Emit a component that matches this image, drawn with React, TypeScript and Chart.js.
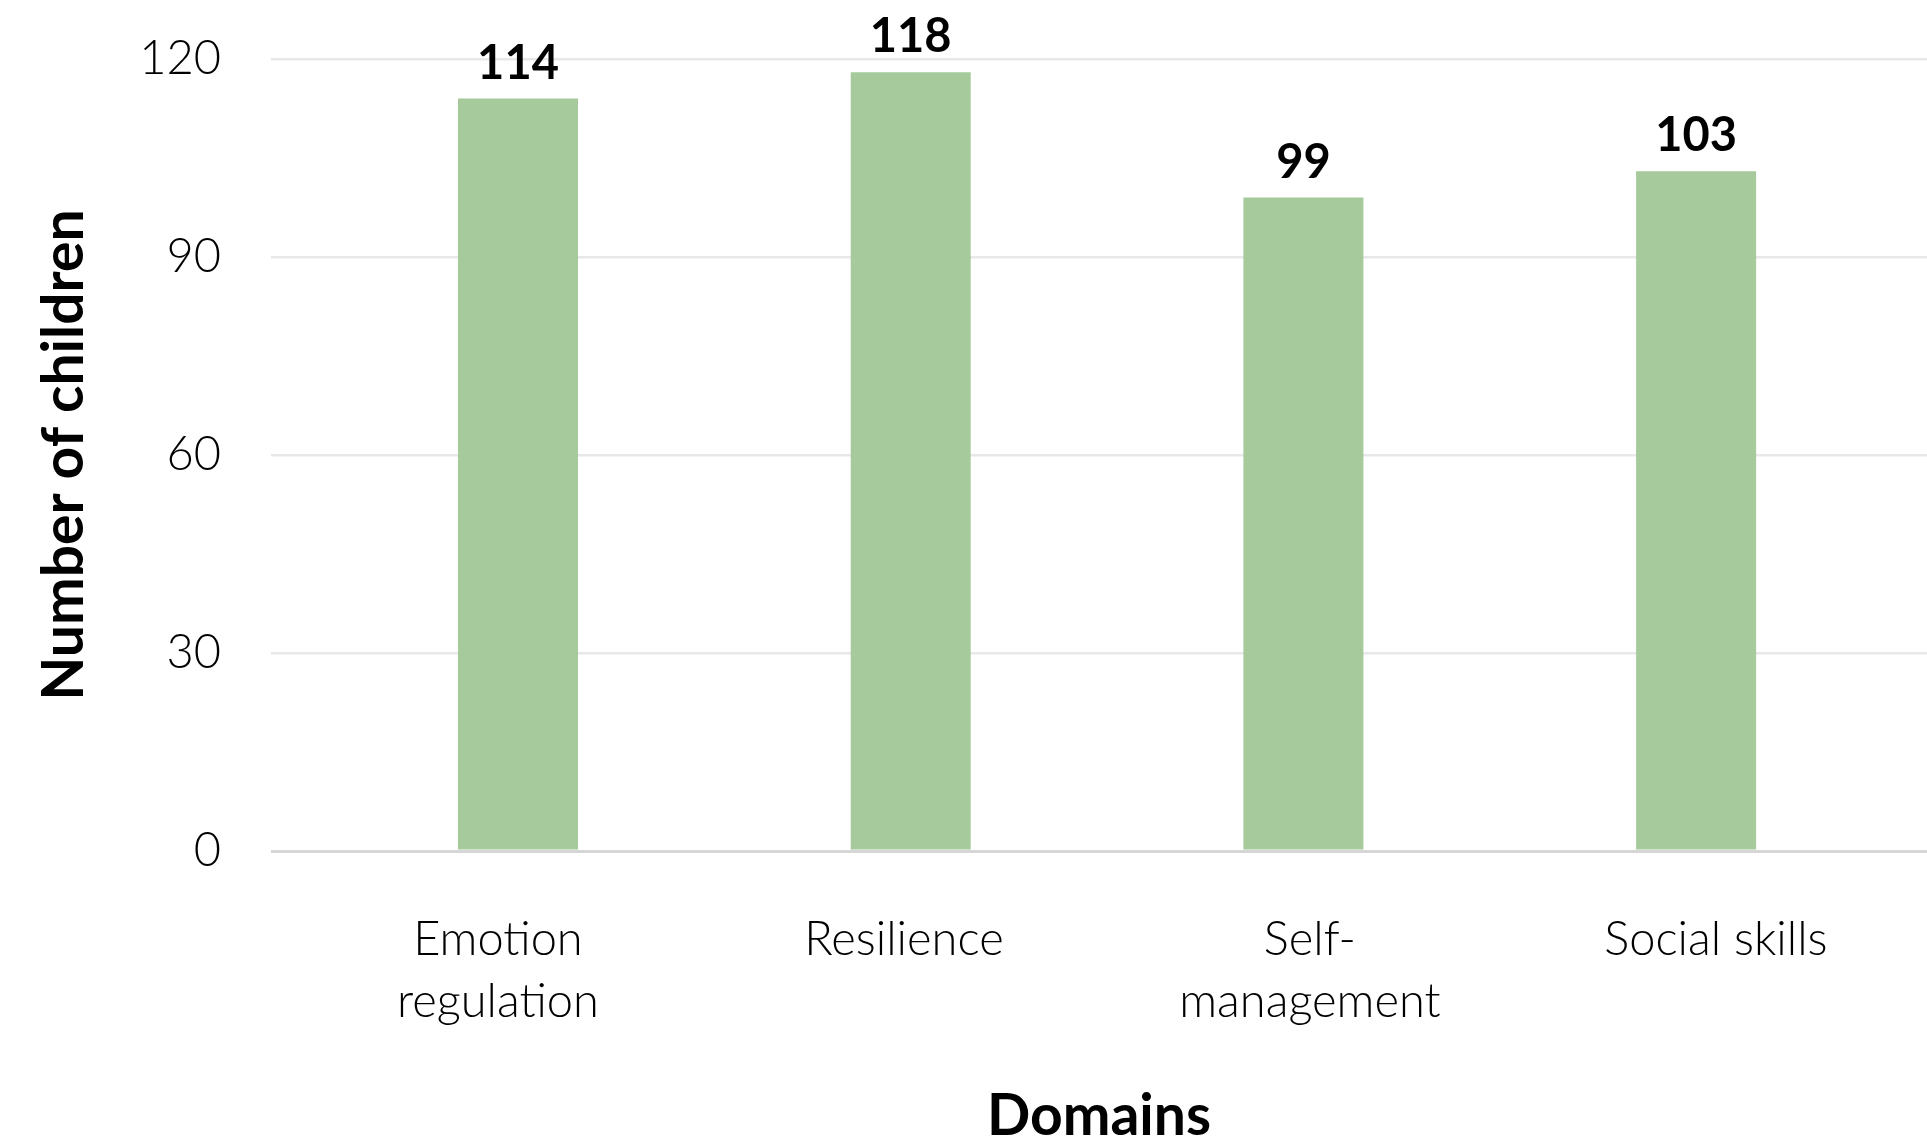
import React, { useEffect, useRef } from 'react';
import { Chart, registerables } from 'chart.js';

Chart.register(...registerables);

// ---- data ----
const categories: string[][] = [
  ['Emotion', 'regulation'],
  ['Resilience'],
  ['Self-', 'management'],
  ['Social skills'],
];
const values: number[] = [114, 118, 99, 103];
const yTicks: number[] = [0, 30, 60, 90, 120];
const xTitle = 'Domains';
const yTitle = 'Number of children';

const FAMILY = "Lato, 'Noto Sans', sans-serif";

const valueLabels = {
  id: 'valueLabels',
  afterDatasetsDraw(chart: any) {
    const ctx = chart.ctx;
    const meta = chart.getDatasetMeta(0);
    ctx.save();
    ctx.font = `bold 47px ${FAMILY}`;
    ctx.fillStyle = '#000';
    ctx.textAlign = 'center';
    ctx.textBaseline = 'alphabetic';
    meta.data.forEach((el: any, i: number) => {
      ctx.fillText(String(values[i]), el.x, el.y - 20);
    });
    ctx.restore();
  },
};

export default function App() {
  const ref = useRef<HTMLCanvasElement | null>(null);

  useEffect(() => {
    document.body.style.margin = '0';
    const canvas = ref.current;
    if (!canvas) return;
    const chart = new Chart(canvas, {
      type: 'bar',
      data: {
        datasets: [
          {
            data: values.map((v, i) => ({ x: i, y: v })) as any,
            backgroundColor: '#a6ca9b',
            borderWidth: 0,
            categoryPercentage: 1,
            barPercentage: 0.3056,
            xAxisID: 'x',
            yAxisID: 'y',
          },
        ],
      },
      options: {
        animation: false,
        responsive: true,
        maintainAspectRatio: false,
        layout: { padding: { top: 59, right: 0, bottom: 0, left: 0 } },
        plugins: {
          legend: { display: false },
          tooltip: { enabled: false },
        },
        scales: {
          x: {
            type: 'linear',
            position: 'bottom',
            offset: false,
            min: -0.629,
            max: 3.588,
            afterBuildTicks: (s: any) => {
              s.ticks = values.map((_, i) => ({ value: i }));
            },
            afterFit: (s: any) => {
              s.height = 0;
              s.paddingLeft = 0;
              s.paddingRight = 0;
            },
            ticks: { display: false },
            grid: { display: false, drawTicks: false },
            border: { display: false },
          },
          xl: {
            type: 'linear',
            position: 'bottom',
            offset: false,
            min: -0.559,
            max: 3.52,
            afterBuildTicks: (s: any) => {
              s.ticks = categories.map((_, i) => ({ value: i }));
            },
            afterFit: (s: any) => {
              s.height = 294;
              s.paddingLeft = 0;
              s.paddingRight = 0;
            },
            ticks: {
              autoSkip: false,
              maxRotation: 0,
              minRotation: 0,
              padding: 58,
              color: '#000',
              font: { family: FAMILY, size: 47, weight: '300', lineHeight: '62px' } as any,
              callback: (v: any) => categories[v] as any,
            },
            grid: { display: false, drawTicks: false },
            border: { display: false },
            title: {
              display: true,
              text: xTitle,
              color: '#000',
              font: { family: FAMILY, size: 57, weight: 'bold', lineHeight: 1 } as any,
              padding: { top: 0, bottom: 0 },
            },
          },
          y: {
            type: 'linear',
            min: 0,
            max: 120,
            afterBuildTicks: (s: any) => {
              s.ticks = yTicks.map((v) => ({ value: v }));
            },
            afterFit: (s: any) => {
              s.width = 271;
              s.paddingTop = 0;
              s.paddingBottom = 0;
            },
            ticks: {
              padding: 50,
              color: '#000',
              font: { family: FAMILY, size: 47, weight: '300' } as any,
            },
            grid: {
              drawTicks: false,
              color: (c: any) => (c.tick && c.tick.value === 0 ? '#d6d6d6' : '#e8e8e8'),
              lineWidth: (c: any) => (c.tick && c.tick.value === 0 ? 3 : 2.5),
            },
            border: { display: false },
            title: {
              display: true,
              text: yTitle,
              color: '#000',
              font: { family: FAMILY, size: 57, weight: 'bold', lineHeight: 1 } as any,
              padding: { top: 36, bottom: 0 },
            },
          },
        },
      },
      plugins: [valueLabels],
    });
    return () => chart.destroy();
  }, []);

  return (
    <div style={{ width: '1927px', height: '1145px', position: 'relative' }}>
      <canvas ref={ref} />
    </div>
  );
}
